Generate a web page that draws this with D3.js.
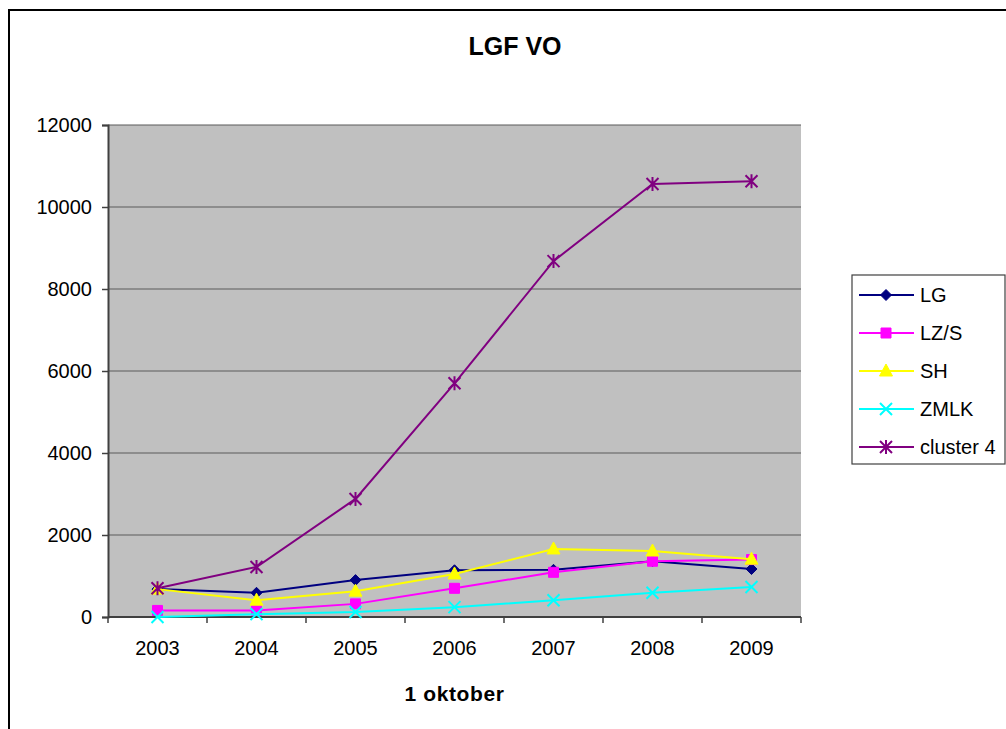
<!DOCTYPE html>
<html lang="en">
<head>
<meta charset="utf-8">
<title>LGF VO</title>
<script src="https://cdn.jsdelivr.net/npm/d3@7"></script>
<style>
  body { margin: 0; background: #fff; }
  text { font-family: Arial, "Liberation Sans", sans-serif; fill: #000; }
</style>
</head>
<body>
<div id="chart"></div>
<script>
  // data
  var years = ["2003", "2004", "2005", "2006", "2007", "2008", "2009"];
  var seriesNames = ["LG", "LZ/S", "SH", "ZMLK", "cluster 4"];
  var lg = [680, 590, 900, 1140, 1150, 1360, 1170];
  var lzs = [160, 160, 320, 700, 1090, 1360, 1400];
  var sh = [680, 410, 630, 1050, 1660, 1610, 1410];
  var zmlk = [0, 70, 120, 240, 410, 590, 730];
  var cluster4 = [700, 1220, 2880, 5700, 8680, 10560, 10630];
  var yTicks = [0, 2000, 4000, 6000, 8000, 10000, 12000];

  var colors = ["#000080", "#ff00ff", "#ffff00", "#00ffff", "#800080"];
  var markers = ["diamond", "square", "triangle", "x", "star"];
  var values = [lg, lzs, sh, zmlk, cluster4];

  var width = 1006, height = 729;
  var plot = { left: 108, right: 801, top: 125, bottom: 617 };

  var svg = d3.select("#chart").append("svg")
    .attr("width", width)
    .attr("height", height);

  // chart border
  svg.append("rect")
    .attr("x", 9).attr("y", 10)
    .attr("width", 1010).attr("height", 740)
    .attr("fill", "none").attr("stroke", "#000").attr("stroke-width", 2);

  var x = d3.scaleBand().domain(years).range([plot.left, plot.right]);
  var y = d3.scaleLinear().domain([0, 12000]).range([plot.bottom, plot.top]);
  function cx(d) { return x(d) + x.bandwidth() / 2; }

  // plot area
  svg.append("rect")
    .attr("x", plot.left).attr("y", plot.top)
    .attr("width", plot.right - plot.left).attr("height", plot.bottom - plot.top)
    .attr("fill", "#c0c0c0");

  // gridlines
  svg.append("g").selectAll("line")
    .data(yTicks.filter(function (d) { return d > 0; }))
    .join("line")
    .attr("x1", plot.left).attr("x2", plot.right)
    .attr("y1", function (d) { return y(d); })
    .attr("y2", function (d) { return y(d); })
    .attr("stroke", "#5a5a5a").attr("stroke-width", 1.2);

  // y axis
  var yAxis = svg.append("g")
    .attr("transform", "translate(" + plot.left + ",0)")
    .call(d3.axisLeft(y).tickValues(yTicks).tickSize(6).tickPadding(10).tickFormat(d3.format("d")));
  yAxis.select(".domain").attr("stroke", "#404040").attr("stroke-width", 2);
  yAxis.selectAll(".tick line").attr("stroke", "#404040").attr("stroke-width", 1.5);
  yAxis.selectAll(".tick text").attr("font-size", 20).attr("font-family", "Arial, 'Liberation Sans', sans-serif").attr("fill", "#000");

  // x axis: ticks between categories
  var xAxis = svg.append("g")
    .attr("transform", "translate(0," + plot.bottom + ")");
  xAxis.append("line")
    .attr("x1", plot.left).attr("x2", plot.right)
    .attr("stroke", "#404040").attr("stroke-width", 2);
  var bounds = years.map(function (d) { return x(d); }).concat([plot.right]);
  xAxis.selectAll("line.tk").data(bounds).join("line")
    .attr("class", "tk")
    .attr("x1", function (d) { return d; }).attr("x2", function (d) { return d; })
    .attr("y1", 0).attr("y2", 6)
    .attr("stroke", "#404040").attr("stroke-width", 1.5);
  xAxis.selectAll("text").data(years).join("text")
    .attr("x", cx).attr("y", 38)
    .attr("text-anchor", "middle").attr("font-size", 20)
    .text(function (d) { return d; });

  // titles
  svg.append("text")
    .attr("x", 515).attr("y", 55)
    .attr("text-anchor", "middle").attr("font-size", 25).attr("font-weight", "bold")
    .text("LGF VO");
  svg.append("text")
    .attr("x", cx("2006")).attr("y", 701)
    .attr("text-anchor", "middle").attr("font-size", 21).attr("font-weight", "bold")
    .attr("letter-spacing", 0.6)
    .text("1 oktober");

  function markerPath(type) {
    var s = 5.5;
    if (type == "diamond") return "M0," + (-s) + "L" + s + ",0L0," + s + "L" + (-s) + ",0Z";
    if (type == "square") return "M" + (-5) + "," + (-5) + "h10v10h-10Z";
    if (type == "triangle") return "M0,-7L6.5,5L-6.5,5Z";
    if (type == "x") return "M-6,-6L6,6M6,-6L-6,6";
    return "M-6,-6L6,6M6,-6L-6,6M0,-7L0,7";
  }

  var line = d3.line()
    .x(function (d, i) { return cx(years[i]); })
    .y(function (d) { return y(d); });

  values.forEach(function (vals, k) {
    var g = svg.append("g");
    g.append("path")
      .attr("d", line(vals))
      .attr("fill", "none")
      .attr("stroke", colors[k]).attr("stroke-width", 2);
    var open = markers[k] == "x" || markers[k] == "star";
    g.selectAll("path.m").data(vals).join("path")
      .attr("class", "m")
      .attr("transform", function (d, i) { return "translate(" + cx(years[i]) + "," + y(d) + ")"; })
      .attr("d", markerPath(markers[k]))
      .attr("fill", open ? "none" : colors[k])
      .attr("stroke", colors[k])
      .attr("stroke-width", open ? 2 : 1);
  });

  // legend
  var legend = svg.append("g");
  legend.append("rect")
    .attr("x", 852).attr("y", 275)
    .attr("width", 153).attr("height", 189)
    .attr("fill", "#fff").attr("stroke", "#404040").attr("stroke-width", 1.2);
  seriesNames.forEach(function (name, k) {
    var ly = 295 + k * 38;
    legend.append("line")
      .attr("x1", 859).attr("x2", 914).attr("y1", ly).attr("y2", ly)
      .attr("stroke", colors[k]).attr("stroke-width", 2);
    var open = markers[k] == "x" || markers[k] == "star";
    legend.append("path")
      .attr("transform", "translate(886," + ly + ")")
      .attr("d", markerPath(markers[k]))
      .attr("fill", open ? "none" : colors[k])
      .attr("stroke", colors[k])
      .attr("stroke-width", open ? 2 : 1);
    legend.append("text")
      .attr("x", 920).attr("y", ly + 7)
      .attr("font-size", 20)
      .text(name);
  });
</script>
</body>
</html>
